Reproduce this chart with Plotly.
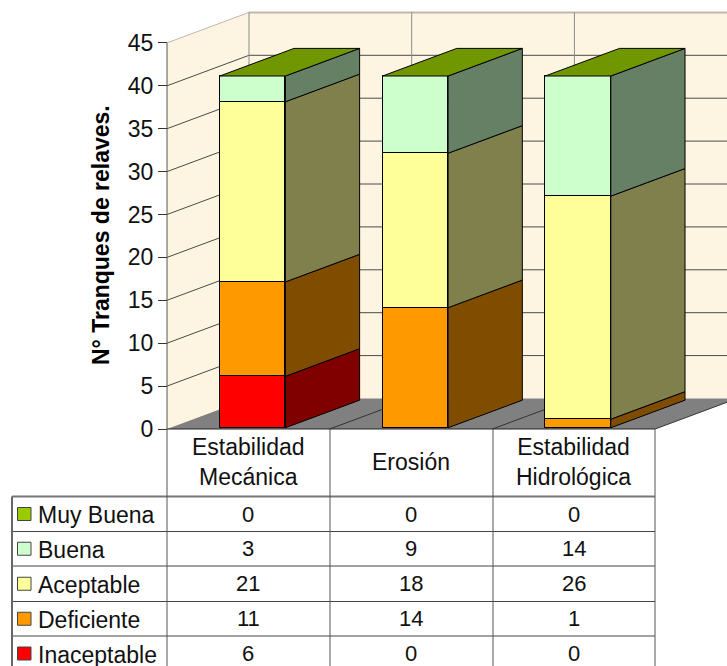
import plotly.graph_objects as go

# ---- data ----
categories = ["Estabilidad<br>Mecánica", "Erosión", "Estabilidad<br>Hidrológica"]
inaceptable = [6, 0, 0]
deficiente = [11, 14, 1]
aceptable = [21, 18, 26]
buena = [3, 9, 14]
muy_buena = [0, 0, 0]
series_names = ["Inaceptable", "Deficiente", "Aceptable", "Buena", "Muy Buena"]
series_values = [inaceptable, deficiente, aceptable, buena, muy_buena]
front_colors = ["#ff0000", "#ff9900", "#ffff99", "#ccffcc", "#99cc00"]
side_colors = ["#800000", "#804d00", "#80804d", "#668066", "#4d6600"]
top_color = "#709600"
y_ticks = [0, 5, 10, 15, 20, 25, 30, 35, 40, 45]
y_title = "N° Tranques de relaves."

# ---- geometry ----
W, H = 727, 666
X0, Y0 = 167.0, 429.0      # pixel of origin on the front plane
XU, YU = 162.7, 8.58       # pixels per category / per unit
DEPTH_X, DEPTH_Y = 82.0, 30.5
D_FRONT, D_BACK = 0.04, 0.945
BAR_W = 0.403
BAR_SHIFT = 1.0 / XU
FONT = "Liberation Sans"


def proj(x, v, d):
    """oblique projection of (category position, value, depth) into axis units"""
    return x + d * DEPTH_X / XU, v + d * DEPTH_Y / YU


def line(x0, y0, x1, y1, color="#444444", width=1, layer="below", ref="x"):
    return dict(type="line", xref=ref, yref="paper" if ref == "paper" else "y",
                x0=x0, y0=y0, x1=x1, y1=y1, layer=layer,
                line=dict(color=color, width=width))


def path(points):
    return "M " + " L ".join(f"{a},{b}" for a, b in points) + " Z"


fig = go.Figure()
shapes = []

# walls and floor
WALL = "#fdf5e1"
left_wall = [proj(0, 0, 0), proj(0, 45, 0), proj(0, 45, 1), proj(0, 0, 1)]
back_wall = [proj(0, 0, 1), proj(0, 45, 1), proj(3, 45, 1), proj(3, 0, 1)]
floor = [proj(0, 0, 0), proj(0, 0, 1), proj(3, 0, 1), proj(3, 0, 0)]
for pts, col in ((left_wall, WALL), (back_wall, WALL), (floor, "#808080")):
    shapes.append(dict(type="path", xref="x", yref="y", path=path(pts), layer="below",
                       fillcolor=col, line=dict(width=0)))

# gridlines
for t in y_ticks:
    col = "#bdb9b0" if t == 45 else "#4a4a4a"
    a = proj(0, t, 0)
    b = proj(0, t, 1)
    c = proj(3, t, 1)
    if t > 0:
        shapes.append(line(a[0], a[1], b[0], b[1], col))
        shapes.append(line(b[0], b[1], c[0], c[1], col, 2 if t == 45 else 1))
for i in range(0, 3):
    a = proj(i, 0, 1)
    b = proj(i, 45, 1)
    shapes.append(line(a[0], a[1], b[0], b[1], "#8a8a8a"))
for i in range(1, 4):
    a = proj(i, 0, 0)
    b = proj(i, 0, 1)
    shapes.append(line(a[0], a[1], b[0], b[1], "#333333"))

# bars
centres = [i + 0.5 + BAR_SHIFT + D_FRONT * DEPTH_X / XU for i in range(3)]
base_shift = D_FRONT * DEPTH_Y / YU
cum = [0, 0, 0]
for name, vals, fc, sc in zip(series_names, series_values, front_colors, side_colors):
    fig.add_trace(go.Bar(
        x=centres, y=vals, base=[c + base_shift for c in cum], width=BAR_W, name=name,
        marker=dict(color=fc, line=dict(color="#000000", width=1)),
        showlegend=False, hoverinfo="y+name"))
    for i, v in enumerate(vals):
        if v == 0:
            continue
        xr = i + 0.5 + BAR_SHIFT + BAR_W / 2
        pts = [proj(xr, cum[i], D_FRONT), proj(xr, cum[i] + v, D_FRONT),
               proj(xr, cum[i] + v, D_BACK), proj(xr, cum[i], D_BACK),
               proj(xr, cum[i], D_FRONT)]
        fig.add_trace(go.Scatter(
            x=[p[0] for p in pts], y=[p[1] for p in pts], mode="lines", fill="toself",
            fillcolor=sc, line=dict(color="#000000", width=1),
            showlegend=False, hoverinfo="skip"))
    cum = [c + v for c, v in zip(cum, vals)]

for i, total in enumerate(cum):
    xl, xr = i + 0.5 + BAR_SHIFT - BAR_W / 2, i + 0.5 + BAR_SHIFT + BAR_W / 2
    pts = [proj(xl, total, D_FRONT), proj(xl, total, D_BACK), proj(xr, total, D_BACK),
           proj(xr, total, D_FRONT), proj(xl, total, D_FRONT)]
    fig.add_trace(go.Scatter(
        x=[p[0] for p in pts], y=[p[1] for p in pts], mode="lines", fill="toself",
        fillcolor=top_color, line=dict(color="#000000", width=1),
        showlegend=False, hoverinfo="skip"))

# y axis line
shapes.append(line(0, 0, 0, 45, "#555555", 1, "above"))


# ---- data table ----
def px(x):
    return x / W


def py(y):
    return 1 - y / H


annotations = []
col_x = [167, 330, 493, 655]
row_y = [496.5, 531.5, 566, 601.5, 636, 671]
shapes.append(line(px(167), py(429), px(655), py(429), "#222222", 1, "above", "paper"))
shapes.append(line(px(12), py(496.5), px(655), py(496.5), "#777777", 2, "above", "paper"))
for y in row_y[1:]:
    shapes.append(line(px(12), py(y), px(655), py(y), "#444444", 1, "above", "paper"))
for x in col_x:
    shapes.append(line(px(x), py(429), px(x), py(666), "#555555", 1, "above", "paper"))
shapes.append(line(px(12), py(496.5), px(12), py(666), "#666666", 2, "above", "paper"))

for j, cat in enumerate(categories):
    annotations.append(dict(
        xref="paper", yref="paper", x=px((col_x[j] + col_x[j + 1]) / 2 - 0.5), y=py(462),
        text=cat, showarrow=False, xanchor="center", yanchor="middle",
        font=dict(family=FONT, size=23, color="#111111")))

rows = list(zip(series_names, series_values, front_colors))[::-1]
for r, (name, vals, col) in enumerate(rows):
    yc = (row_y[r] + row_y[r + 1]) / 2
    shapes.append(dict(type="rect", xref="paper", yref="paper", x0=px(17.5), x1=px(31),
                       y0=py(yc + 6.5), y1=py(yc - 6.5), fillcolor=col, layer="above",
                       line=dict(color="#444444", width=1)))
    annotations.append(dict(
        xref="paper", yref="paper", x=px(35.5), y=py(yc + 1), text=name, showarrow=False,
        xanchor="left", yanchor="middle",
        font=dict(family=FONT, size=23, color="#111111")))
    for j, v in enumerate(vals):
        annotations.append(dict(
            xref="paper", yref="paper", x=px((col_x[j] + col_x[j + 1]) / 2 - 0.5), y=py(yc),
            text=str(v), showarrow=False, xanchor="center", yanchor="middle",
            font=dict(family=FONT, size=22, color="#111111")))

annotations.append(dict(
    xref="paper", yref="paper", x=px(101), y=py(235), text=f"<b>{y_title}</b>",
    showarrow=False, textangle=-90, xanchor="center", yanchor="middle",
    font=dict(family=FONT, size=23, color="#000000")))

fig.update_layout(
    width=W, height=H, margin=dict(l=0, r=0, t=0, b=0),
    paper_bgcolor="#ffffff", plot_bgcolor="rgba(0,0,0,0)",
    barmode="overlay", bargap=0, showlegend=False,
    shapes=shapes, annotations=annotations,
    xaxis=dict(range=[-X0 / XU, (W - X0) / XU], visible=False, fixedrange=True, domain=[0, 1]),
    yaxis=dict(range=[-(H - Y0) / YU, Y0 / YU], anchor="free", position=X0 / W,
               tickmode="array", tickvals=y_ticks, ticks="outside", ticklen=9,
               tickcolor="#333333", showgrid=False, zeroline=False, showline=False,
               tickfont=dict(family=FONT, size=23, color="#111111"), fixedrange=True),
)

fig.write_html("out.html", config=dict(displayModeBar=False),
               post_script="document.body.style.margin='0';")
